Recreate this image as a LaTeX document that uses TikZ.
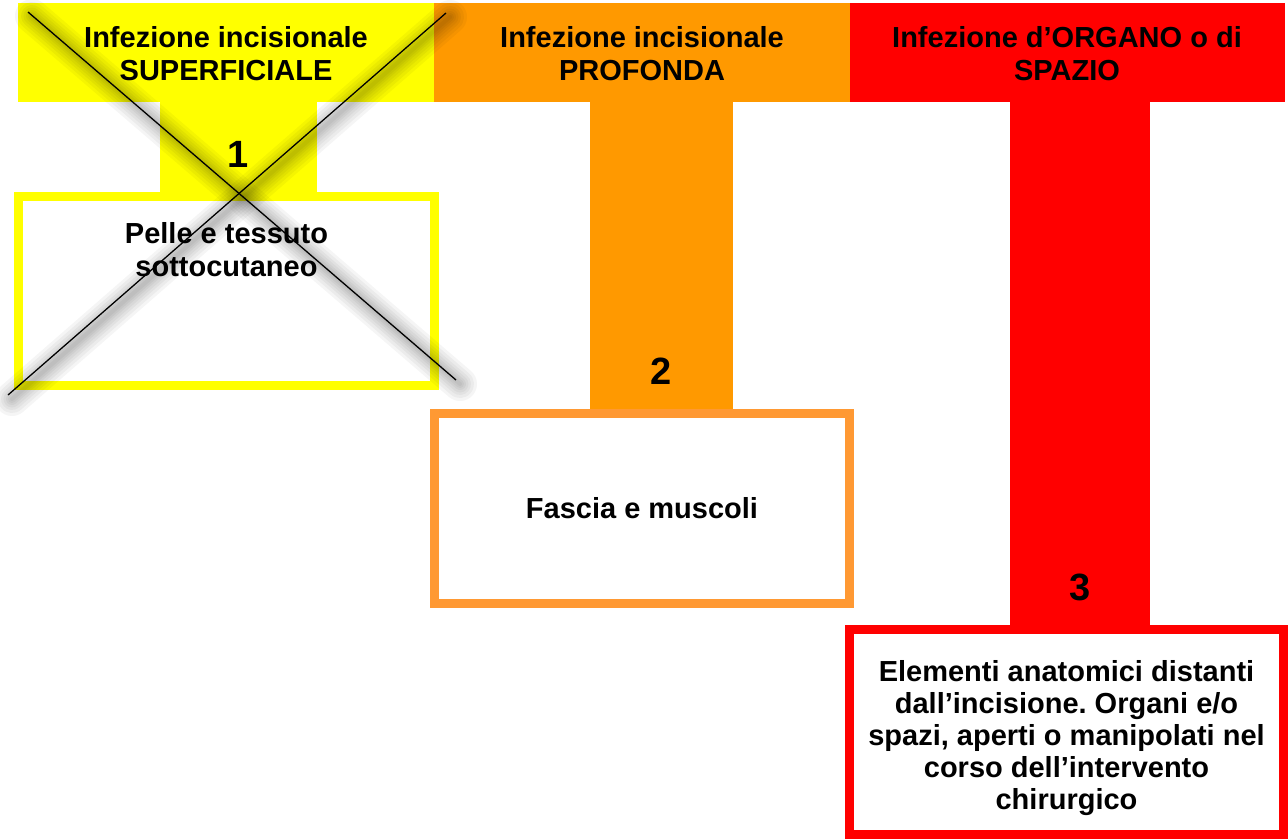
\documentclass[tikz,border=0pt]{standalone}
\usepackage{fontspec}
\setmainfont{Liberation Sans}
\frenchspacing
\definecolor{yel}{HTML}{FFFF00}
\definecolor{org}{HTML}{FF9900}
\definecolor{orgbox}{HTML}{FF9933}
\definecolor{rd}{HTML}{FF0000}
\tikzset{
  block/.style={rectangle, inner sep=0pt, outer sep=0pt, anchor=north west},
  catbox/.style={rectangle, inner sep=0pt, outer sep=0pt, anchor=north west, line width=9pt, fill=white},
  txt/.style={inner sep=0pt, align=center, font=\bfseries\fontsize{29}{33}\selectfont},
  num/.style={inner sep=0pt, anchor=base, font=\bfseries\fontsize{38}{40}\selectfont},
  crossline/.style={line width=1.3pt, black},
}
\begin{document}
\begin{tikzpicture}[x=1pt,y=-1pt]
\useasboundingbox (0,0) rectangle (1288,839);
% headers
\node[block, fill=yel, minimum width=416pt, minimum height=99pt] (h1) at (18,3) {};
\node[block, fill=org, minimum width=416pt, minimum height=99pt] (h2) at (434,3) {};
\node[block, fill=rd, minimum width=435pt, minimum height=99pt] (h3) at (850,3) {};
% stems
\node[block, fill=yel, minimum width=157pt, minimum height=95pt] (s1) at (160,102) {};
\node[block, fill=org, minimum width=143pt, minimum height=312pt] (s2) at (590,102) {};
\node[block, fill=rd, minimum width=140pt, minimum height=528pt] (s3) at (1010,102) {};
% boxes
\node[catbox, draw=yel, minimum width=416pt, minimum height=189pt] (b1) at (18.5,196.5) {};
\node[catbox, draw=orgbox, minimum width=415pt, minimum height=190pt] (b2) at (434.5,413.5) {};
\node[catbox, draw=rd, minimum width=434pt, minimum height=205pt] (b3) at (849.5,629.5) {};
% header texts
\node[txt, anchor=north] (t1) at (226,26) {Infezione incisionale\\SUPERFICIALE};
\node[txt, anchor=north] (t2) at (642,26) {Infezione incisionale\\PROFONDA};
\node[txt, anchor=north] (t3) at (1067,26) {Infezione d’ORGANO o di\\SPAZIO};
% numbers
\node[num] (n1) at (238.5,167) {1};
\node[num] (n2) at (661.5,384) {2};
\node[num] (n3) at (1080,600) {3};
% box texts
\node[txt, anchor=north] (d1) at (226.5,222) {Pelle e tessuto\\sottocutaneo};
\node[txt, anchor=base] (d2) at (642,518) {Fascia e muscoli};
\node[txt, anchor=north, font=\bfseries\fontsize{29}{32}\selectfont] (d3) at (1066.5,660) {Elementi anatomici distanti\\dall’incisione. Organi e/o\\spazi, aperti o manipolati nel\\corso dell’intervento\\chirurgico};
% cross
\coordinate (xa1) at (28,12);
\coordinate (xa2) at (456,380);
\coordinate (xb1) at (446,13);
\coordinate (xb2) at (8,395);
\foreach \w in {34,28,22,17,12,8,4}{
  \draw[line width=\w pt, black, opacity=0.04, line cap=round] ([shift={(4,4)}]xa1) -- ([shift={(4,4)}]xa2);
  \draw[line width=\w pt, black, opacity=0.04, line cap=round] ([shift={(4,4)}]xb1) -- ([shift={(4,4)}]xb2);
}
\draw[crossline] (xa1) -- (xa2);
\draw[crossline] (xb1) -- (xb2);
\end{tikzpicture}
\end{document}
